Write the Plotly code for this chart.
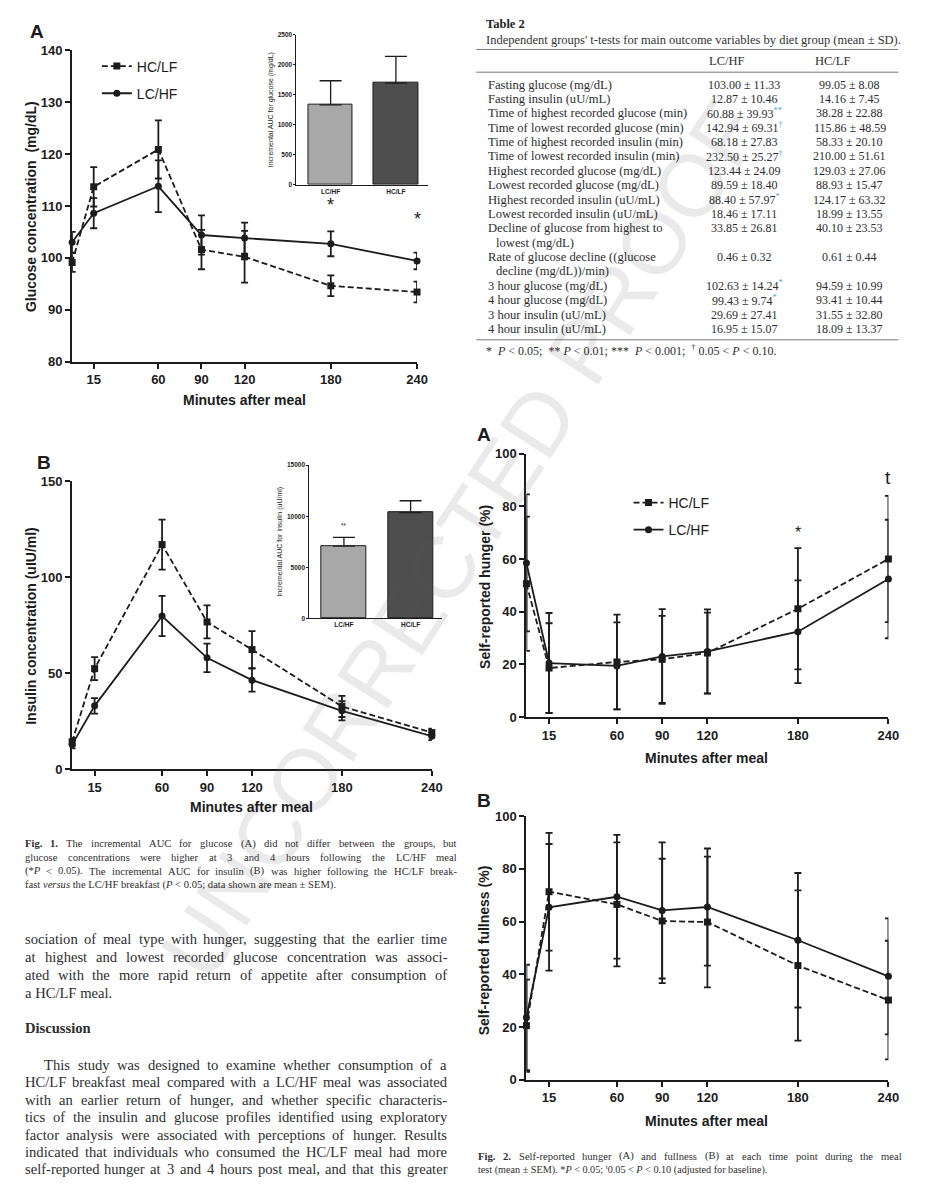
import re

import plotly.graph_objects as go

W, H = 934, 1200


def fx(x):
    return x / W


def fy(y):
    return 1 - y / H


# ---- data -------------------------------------------------------------
times = [0, 15, 60, 90, 120, 180, 240]
time_ticks = [15, 60, 90, 120, 180, 240]

glucose_hclf = [99.1, 113.7, 120.9, 101.6, 100.2, 94.6, 93.4]
glucose_hclf_sem = [1.8, 3.8, 5.6, 3.8, 5.0, 2.0, 2.0]
glucose_lchf = [103.0, 108.6, 113.8, 104.4, 103.8, 102.7, 99.4]
glucose_lchf_sem = [2.0, 2.9, 5.0, 3.8, 3.0, 2.4, 1.6]

insulin_hclf = [14.2, 52.3, 116.9, 76.6, 62.2, 32.6, 19.0]
insulin_hclf_sem = [2.0, 6.0, 13.0, 8.6, 9.6, 5.5, 2.0]
insulin_lchf = [12.8, 32.9, 79.7, 57.9, 46.3, 30.3, 17.1]
insulin_lchf_sem = [2.0, 4.0, 10.5, 7.4, 6.0, 5.0, 2.0]

auc_groups = ["LC/HF", "HC/LF"]
auc_glucose = [1332, 1694]
auc_glucose_sem = [400, 444]
auc_insulin = [7065, 10355]
auc_insulin_sem = [870, 1160]

hunger_hclf = [50.6, 18.6, 20.9, 21.9, 24.3, 41.1, 60.0]
hunger_hclf_sem = [25.5, 17.0, 18.0, 16.5, 15.3, 23.0, 24.0]
hunger_lchf = [58.5, 20.5, 19.4, 23.0, 24.9, 32.4, 52.4]
hunger_lchf_sem = [26.0, 19.0, 16.5, 18.0, 16.0, 19.5, 22.5]

fullness_hclf = [20.5, 71.3, 66.5, 60.2, 59.8, 43.3, 30.2]
fullness_hclf_sem = [17.5, 22.3, 23.5, 23.6, 24.8, 28.5, 22.5]
fullness_lchf = [23.6, 65.4, 69.4, 64.2, 65.5, 52.9, 39.2]
fullness_lchf_sem = [20.0, 24.0, 23.5, 25.8, 22.2, 25.5, 22.0]

table_labels = [
    ["Fasting glucose (mg/dL)"],
    ["Fasting insulin (uU/mL)"],
    ["Time of highest recorded glucose (min)"],
    ["Time of lowest recorded glucose (min)"],
    ["Time of highest recorded insulin (min)"],
    ["Time of lowest recorded insulin (min)"],
    ["Highest recorded glucose (mg/dL)"],
    ["Lowest recorded glucose (mg/dL)"],
    ["Highest recorded insulin (uU/mL)"],
    ["Lowest recorded insulin (uU/mL)"],
    ["Decline of glucose from highest to", "lowest (mg/dL)"],
    ["Rate of glucose decline ((glucose", "decline (mg/dL))/min)"],
    ["3 hour glucose (mg/dL)"],
    ["4 hour glucose (mg/dL)"],
    ["3 hour insulin (uU/mL)"],
    ["4 hour insulin (uU/mL)"],
]
table_lchf = ["103.00 ± 11.33", "12.87 ± 10.46", "60.88 ± 39.93", "142.94 ± 69.31",
              "68.18 ± 27.83", "232.50 ± 25.27", "123.44 ± 24.09", "89.59 ± 18.40",
              "88.40 ± 57.97", "18.46 ± 17.11", "33.85 ± 26.81", "0.46 ± 0.32",
              "102.63 ± 14.24", "99.43 ± 9.74", "29.69 ± 27.41", "16.95 ± 15.07"]
table_lchf_marks = ["", "", "**", "†", "", "†", "", "", "*", "", "", "", "*", "*", "", ""]
table_hclf = ["99.05 ± 8.08", "14.16 ± 7.45", "38.28 ± 22.88", "115.86 ± 48.59",
              "58.33 ± 20.10", "210.00 ± 51.61", "129.03 ± 27.06", "88.93 ± 15.47",
              "124.17 ± 63.32", "18.99 ± 13.55", "40.10 ± 23.53", "0.61 ± 0.44",
              "94.59 ± 10.99", "93.41 ± 10.44", "31.55 ± 32.80", "18.09 ± 13.37"]

fig1_caption = [
    "<b>Fig.</b> <b>1.</b> The incremental AUC for glucose (A) did not differ between the groups, but",
    "glucose concentrations were higher at 3 and 4 hours following the LC/HF meal",
    "(*<i>P</i> < 0.05). The incremental AUC for insulin (B) was higher following the HC/LF break-",
    "fast <i>versus</i> the LC/HF breakfast (<i>P</i> < 0.05; data shown are mean ± SEM).",
]
fig2_caption = [
    "<b>Fig.</b> <b>2.</b> Self-reported hunger (A) and fullness (B) at each time point during the meal",
    "test (mean ± SEM). *<i>P</i> < 0.05; <sup>t</sup>0.05 < <i>P</i> < 0.10 (adjusted for baseline).",
]
body_para1 = [
    "sociation of meal type with hunger, suggesting that the earlier time",
    "at highest and lowest recorded glucose concentration was associ-",
    "ated with the more rapid return of appetite after consumption of",
    "a HC/LF meal.",
]
body_para2 = [
    "This study was designed to examine whether consumption of a",
    "HC/LF breakfast meal compared with a LC/HF meal was associated",
    "with an earlier return of hunger, and whether specific characteris-",
    "tics of the insulin and glucose profiles identified using exploratory",
    "factor analysis were associated with perceptions of hunger. Results",
    "indicated that individuals who consumed the HC/LF meal had more",
    "self-reported hunger at 3 and 4 hours post meal, and that this greater",
]

# ---- styling ----------------------------------------------------------
SANS = "Liberation Sans"
SERIF = "Liberation Serif"
INK = "#1c1c1c"
TXT = "#2e2e2e"
BAR_LIGHT = "#a8a8a8"
BAR_DARK = "#4e4e4e"
MARK_BLUE = "#4a9fd8"

# Times-compatible advance widths (per 1000 em) used to justify text lines
_W = {" ": 250, "!": 333, "'": 333, "(": 333, ")": 333, "*": 500, "+": 564, ",": 250,
      "-": 333, ".": 250, "/": 278, ":": 278, ";": 278, "<": 564, "=": 564, ">": 564,
      "±": 564, "A": 722, "B": 667, "C": 667, "D": 722, "E": 611, "F": 556, "G": 722,
      "H": 722, "I": 333, "J": 389, "K": 722, "L": 611, "M": 889, "N": 722, "O": 722,
      "P": 556, "Q": 722, "R": 667, "S": 556, "T": 611, "U": 722, "V": 722, "W": 944,
      "X": 722, "Y": 722, "Z": 611, "a": 444, "b": 500, "c": 444, "d": 500, "e": 444,
      "f": 333, "g": 500, "h": 500, "i": 278, "j": 278, "k": 500, "l": 278, "m": 778,
      "n": 500, "o": 500, "p": 500, "q": 500, "r": 333, "s": 389, "t": 278, "u": 500,
      "v": 500, "w": 722, "x": 500, "y": 500, "z": 444}


def text_width(s, size):
    plain = re.sub(r"<[^>]+>", "", s)
    return sum(_W.get(ch, 500) for ch in plain) * size / 1000


fig = go.Figure()


def add_series(n, y, err, name, symbol, dash, legend=None, group=None):
    sfx = "" if n == 1 else str(n)
    fig.add_trace(go.Scatter(
        x=times, y=y, xaxis="x" + sfx, yaxis="y" + sfx, name=name,
        mode="lines+markers",
        line=dict(color=INK, width=1.8, dash=dash),
        marker=dict(symbol=symbol, size=7, color=INK),
        error_y=dict(type="data", array=err, color=INK, thickness=1.8, width=3.5),
        cliponaxis=False,
        showlegend=legend is not None,
        legend=legend or "legend",
        legendgroup=group,
    ))


def add_auc(n, vals, sems):
    sfx = str(n)
    fig.add_trace(go.Bar(
        x=[0, 1], y=vals, xaxis="x" + sfx, yaxis="y" + sfx, width=0.68,
        marker=dict(color=[BAR_LIGHT, BAR_DARK], line=dict(color=INK, width=1)),
        error_y=dict(type="data", array=sems, arrayminus=[0, 0], symmetric=False,
                     color=INK, thickness=1.3, width=11),
        showlegend=False,
    ))


# Fig 1 A / B, Fig 2 A / B
add_series(1, glucose_hclf, glucose_hclf_sem, "HC/LF", "square", "6px,3px", "legend", "g1")
add_series(1, glucose_lchf, glucose_lchf_sem, "LC/HF", "circle", "solid", "legend", "g2")
add_auc(2, auc_glucose, auc_glucose_sem)
add_series(3, insulin_hclf, insulin_hclf_sem, "HC/LF", "square", "6px,3px")
add_series(3, insulin_lchf, insulin_lchf_sem, "LC/HF", "circle", "solid")
add_auc(4, auc_insulin, auc_insulin_sem)
add_series(5, hunger_hclf, hunger_hclf_sem, "HC/LF", "square", "6px,3px", "legend2", "h1")
add_series(5, hunger_lchf, hunger_lchf_sem, "LC/HF", "circle", "solid", "legend2", "h2")
add_series(6, fullness_hclf, fullness_hclf_sem, "HC/LF", "square", "6px,3px")
add_series(6, fullness_lchf, fullness_lchf_sem, "LC/HF", "circle", "solid")

layout = dict(
    width=W, height=H, margin=dict(l=0, r=0, t=0, b=0),
    paper_bgcolor="white", plot_bgcolor="rgba(0,0,0,0)",
    font=dict(family=SANS, color=INK),
    bargap=0, hovermode=False,
)

tick_font = dict(family=SANS, size=13, color=INK, weight="bold")


def main_axes(n, box, yrange, dtick):
    left, right, top, bottom = box
    sfx = "" if n == 1 else str(n)
    layout["xaxis" + sfx] = dict(
        domain=[fx(left), fx(right)], anchor="y" + sfx, range=[0, 240],
        tickvals=time_ticks, showline=True, linewidth=2, linecolor=INK,
        ticks="outside", tickwidth=2, ticklen=5, tickcolor=INK,
        tickfont=tick_font, showgrid=False, zeroline=False,
    )
    layout["yaxis" + sfx] = dict(
        domain=[fy(bottom), fy(top)], anchor="x" + sfx, range=yrange, dtick=dtick,
        showline=True, linewidth=2, linecolor=INK,
        ticks="outside", tickwidth=2, ticklen=5, tickcolor=INK,
        tickfont=tick_font, showgrid=False, zeroline=False,
    )


def inset_axes(n, box, yrange, dtick, xr, title):
    left, right, top, bottom = box
    sfx = str(n)
    small = dict(family=SANS, size=6.5, color=INK, weight="bold")
    layout["xaxis" + sfx] = dict(
        domain=[fx(left), fx(right)], anchor="y" + sfx, range=xr,
        tickvals=[0, 1], ticktext=auc_groups, tickfont=small, ticks="",
        showline=True, linewidth=1, linecolor=INK, showgrid=False, zeroline=False,
    )
    layout["yaxis" + sfx] = dict(
        domain=[fy(bottom), fy(top)], anchor="x" + sfx, range=yrange, dtick=dtick,
        tickformat="d", showline=True, linewidth=1, linecolor=INK, ticks="outside",
        ticklen=2, tickwidth=1, tickcolor=INK, tickfont=small, showgrid=False,
        zeroline=False,
        title=dict(text=title, font=dict(family=SANS, size=7, color=INK), standoff=3),
    )


main_axes(1, (73, 422, 44, 359), [80, 140], 10)
inset_axes(2, (300, 433, 28, 180), [0, 2500], 500, [-0.523, 1.49],
           "Incremental AUC for glucose (mg/dL)")
main_axes(3, (73, 437, 480, 771.7), [0, 150], 50)
inset_axes(4, (313, 447, 464, 619), [0, 15000], 5000, [-0.519, 1.467],
           "Incremental AUC for insulin (uU/ml)")
main_axes(5, (532.7, 899, 452.3, 719), [0, 100], 20)
main_axes(6, (532.7, 899, 819.3, 1086.3), [0, 100], 20)

legend_style = dict(
    xanchor="left", yanchor="top", font=dict(family=SANS, size=14, color=INK),
    itemwidth=30, bgcolor="rgba(0,0,0,0)", tracegroupgap=6, traceorder="grouped",
)
layout["legend"] = dict(x=fx(98), y=fy(44), **legend_style)
layout["legend2"] = dict(x=fx(636), y=fy(486), **legend_style)

fig.update_layout(layout)

ann = []
shapes = []


def text(x, y, s, size, family=SERIF, color=TXT, xanchor="left", angle=0, **kw):
    ann.append(dict(x=fx(x), y=fy(y), xref="paper", yref="paper", text=s,
                    showarrow=False, xanchor=xanchor, yanchor="middle",
                    textangle=angle, font=dict(family=family, size=size, color=color, **kw)))


def justified(x0, x1, y, line, size):
    words = line.split(" ")
    natural = sum(text_width(w, size) for w in words)
    gap = (x1 - x0 - natural) / max(len(words) - 1, 1)
    x = x0
    for w in words:
        text(x, y, w, size)
        x += text_width(w, size) + gap


# watermark
ann.append(dict(x=fx(466), y=fy(540), xref="paper", yref="paper", text="UNCORRECTED PROOF",
                showarrow=False, textangle=-57,
                font=dict(family=SANS, size=88, color="rgba(90,90,90,0.13)")))

# panel letters and axis titles
for x, y, s in [(37, 25, "A"), (45, 461, "B"), (490, 433, "A"), (490, 804, "B")]:
    text(x, y, s, 19, SANS, INK, "center", weight="bold")
for x, y, s in [(32, 202, "Glucose concentration  (mg/dL)"),
                (32, 627, "Insulin concentration (uIU/ml)"),
                (490, 587, "Self-reported hunger (%)"),
                (490, 955, "Self-reported fullness (%)")]:
    text(x, y, s, 14, SANS, INK, "center", angle=-90, weight="bold")
for x, y in [(247, 398), (254, 810), (715, 760), (715, 1128)]:
    text(x, y, "Minutes after meal", 14, SANS, INK, "center", weight="bold")

# significance marks placed on the data axes
for xr, yr, x, y, s, size in [("x", "y", 180, 110.2, "*", 18), ("x", "y", 240, 107.5, "*", 18),
                              ("x4", "y4", 0, 9100, "**", 6.5),
                              ("x5", "y5", 180, 70, "*", 16), ("x5", "y5", 240, 91, "t", 19)]:
    ann.append(dict(x=x, y=y, xref=xr, yref=yr, text=s, showarrow=False,
                    font=dict(family=SANS, size=size, color=INK)))

# table 2
text(490, 17, "<b>Table 2</b>", 12.5, color="#222")
text(490, 33, "Independent groups' t-tests for main outcome variables by diet group (mean ± SD).",
     12.5, color="#333")
for y in [43, 66, 337]:
    shapes.append(dict(type="line", xref="paper", yref="paper", x0=fx(482), x1=fx(909),
                       y0=fy(y), y1=fy(y), line=dict(color="#777", width=1)))
text(715, 55, "LC/HF", 12.5)
text(823, 55, "HC/LF", 12.5)
line_no = 0
for labels, lv, mk, hv in zip(table_labels, table_lchf, table_lchf_marks, table_hclf):
    y = 78.5 + 14.56 * line_no
    for j, lab in enumerate(labels):
        text(492 + (8 if j else 0), y + 14.56 * j, lab, 12.6)
    lv_txt = lv + (f"<sup><span style='color:{MARK_BLUE}'>{mk}</span></sup>" if mk else "")
    text(753, y, lv_txt, 12, xanchor="center")
    text(860, y, hv, 12, xanchor="center")
    line_no += len(labels)
text(490, 348, "*  <i>P</i> < 0.05;  ** <i>P</i> < 0.01; ***  <i>P</i> < 0.001;  "
               "<sup>†</sup> 0.05 < <i>P</i> < 0.10.", 12)

# figure captions and body text (justified lines, last lines ragged)
for k, s in enumerate(fig1_caption):
    y = 847.5 + 13.8 * k
    if k < len(fig1_caption) - 1:
        justified(23, 460, y, s, 10.6)
    else:
        text(23, y, s, 10.6)
justified(482, 910, 1164, fig2_caption[0], 10.6)
text(482, 1177, fig2_caption[1], 10.2)
for k, s in enumerate(body_para1):
    y = 944 + 18 * k
    if k < len(body_para1) - 1:
        justified(23, 450, y, s, 14.6)
    else:
        text(23, y, s, 14.6)
text(23, 1034, "<b>Discussion</b>", 14.6)
for k, s in enumerate(body_para2):
    justified(43 if k == 0 else 23, 450, 1071 + 17.7 * k, s, 14.6)

fig.update_layout(annotations=ann, shapes=shapes)

fig.write_html(
    "out.html",
    config={"displayModeBar": False},
    post_script="document.body.style.margin = '0';"
                "document.documentElement.style.overflow = 'hidden';",
)
